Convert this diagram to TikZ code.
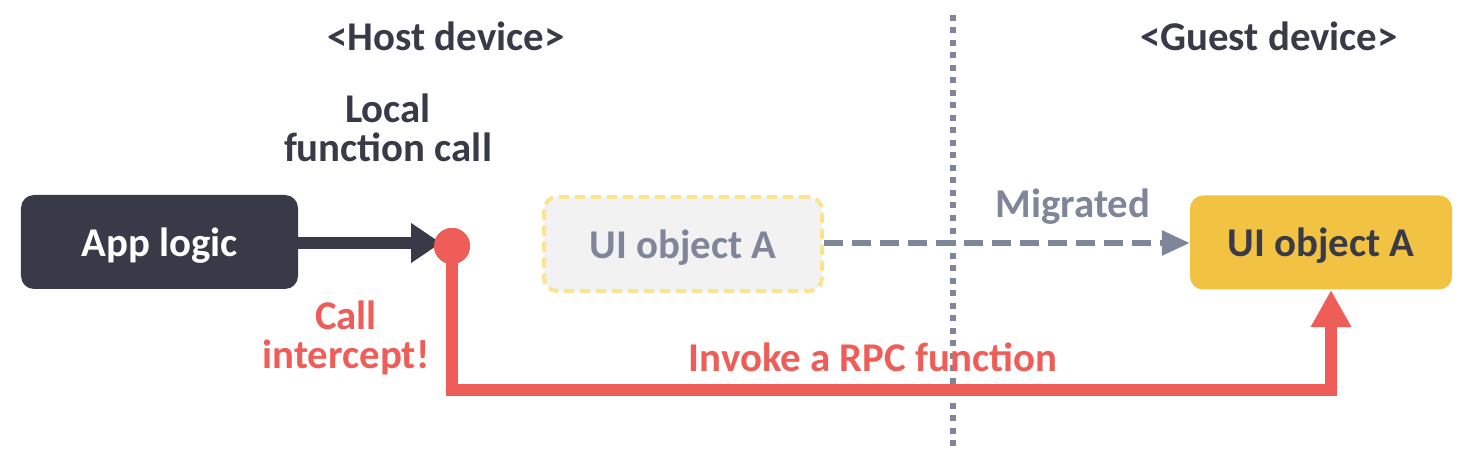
\documentclass[tikz,border=0pt]{standalone}
\usepackage{fontspec}
\setmainfont{Carlito}
\usetikzlibrary{arrows.meta}
\definecolor{darkc}{HTML}{393A47}
\definecolor{redc}{HTML}{EE5D58}
\definecolor{greyc}{HTML}{80869A}
\definecolor{ghostfill}{HTML}{F2F2F2}
\definecolor{ghostline}{HTML}{FDE38F}
\definecolor{goldc}{HTML}{F2C242}
\tikzset{
  lbl/.style={font=\fontsize{41}{42}\selectfont\bfseries, inner sep=0pt, align=center},
  boxbase/.style={rounded corners=13bp, minimum height=94bp, inner sep=0pt, text depth=0pt, font=\fontsize{41}{42}\selectfont\bfseries},
}
\begin{document}
\begin{tikzpicture}[x=1bp,y=-1bp]
\useasboundingbox (0,0) rectangle (1480,450);
% divider
\draw[greyc, line width=6bp, dash pattern=on 6bp off 6.5bp] (953,15) -- (953,447);
% headings
\node[lbl, text=darkc] (host) at (446,36) {<Host device>};
\node[lbl, text=darkc] (guest) at (1269,36) {<Guest device>};
\node[lbl, text=darkc, text depth=0pt] (local) at (388,128) {Local\\[-3pt]function call};
% boxes
\node[boxbase, fill=darkc, text=white, minimum width=277bp] (app) at (159.5,242) {App logic};
\node[boxbase, fill=ghostfill, draw=ghostline, line width=4bp, dash pattern=on 10bp off 6bp, text=greyc, minimum width=278bp] (ghost) at (683,244) {UI object A};
\node[boxbase, fill=goldc, text=darkc, minimum width=262bp] (uia) at (1321,242.5) {UI object A};
% dot
\node[circle, fill=redc, minimum size=36bp, inner sep=0pt] (dot) at (452,246) {};
% red path
\coordinate (bl) at (452,390);
\coordinate (br) at (1331,390);
\coordinate (tip) at (1331,290);
\draw[redc, line width=12bp, line join=miter, -{Triangle[length=37bp,width=38bp]}] (dot.center) -- (bl) -- (br) -- (tip);
% dark arrow
\draw[darkc, line width=12bp, -{Triangle[length=30bp,width=38bp]}] (app.east |- 0,243) -- (441,243);
\node[circle, fill=redc, minimum size=36bp, inner sep=0pt] at (dot) {};
% dashed migration arrow
\draw[greyc, line width=6bp, dash pattern=on 19bp off 9bp, -{Triangle[length=28bp,width=24bp]}] (ghost.east |- 0,243) -- (uia.west |- 0,243);
% labels
\node[lbl, text=greyc] (mig) at (1073,207) {Migrated};
\node[lbl, text=redc] (call) at (346,338) {Call\\[-3pt]intercept!};
\node[lbl, text=redc] (rpc) at (873,357) {Invoke a RPC function};
\end{tikzpicture}
\end{document}
